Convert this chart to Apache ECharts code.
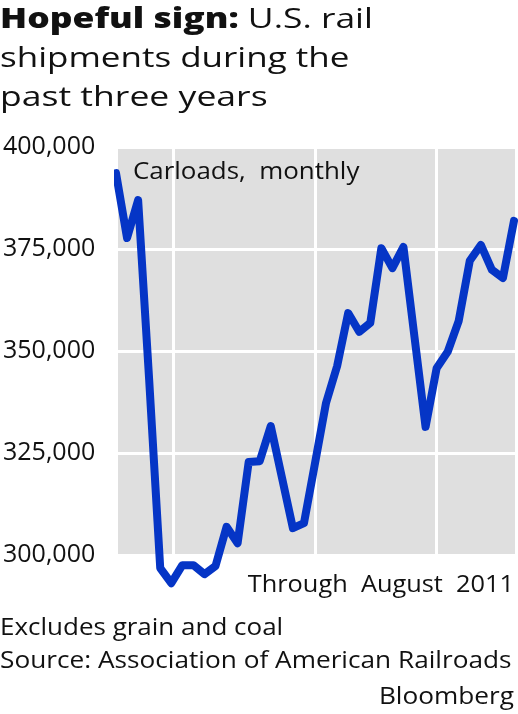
<!DOCTYPE html>
<html>
<head>
<meta charset="utf-8">
<script src="https://cdn.jsdelivr.net/npm/echarts@6/dist/echarts.min.js"></script>
<style>
  html, body { margin: 0; padding: 0; background: #fff; }
  #main { width: 518px; height: 714px; }
</style>
</head>
<body>
<div id="main"></div>
<script>
// monthly carloads, Aug 2008 .. Aug 2011
var months = [
  "Aug 08","Sep 08","Oct 08","Nov 08","Dec 08",
  "Jan 09","Feb 09","Mar 09","Apr 09","May 09","Jun 09","Jul 09","Aug 09","Sep 09","Oct 09","Nov 09","Dec 09",
  "Jan 10","Feb 10","Mar 10","Apr 10","May 10","Jun 10","Jul 10","Aug 10","Sep 10","Oct 10","Nov 10","Dec 10",
  "Jan 11","Feb 11","Mar 11","Apr 11","May 11","Jun 11","Jul 11","Aug 11"
];
var carloads = [
  393600, 377700, 387000, 342900, 296800,
  293100, 297500, 297500, 295300, 297300, 306900, 302900, 322800, 323000, 331600, 319100, 306600,
  307800, 322500, 337300, 346300, 359300, 354700, 356900, 375200, 370300, 375500, 353400, 331400,
  345800, 349800, 357400, 372100, 376000, 369900, 367900, 381900
];
var yTicks = [300000, 325000, 350000, 375000, 400000];
// white vertical dividers, in month-index units
var dividers = [5.2, 18.05, 29.0];

var FONT = "Open Sans";
var chart = echarts.init(document.getElementById("main"));

// text helper, centred vertically on y; sx stretches it sideways
function label(text, x, y, size, align, sx, rich) {
  return {
    type: "text",
    x: x, y: y, scaleX: sx, z: 100,
    style: {
      text: text,
      fontFamily: FONT, fontSize: size, fill: "#111",
      align: align, textAlign: align,
      verticalAlign: "middle", textVerticalAlign: "middle",
      rich: rich
    }
  };
}

var option = {
  animation: false,
  grid: {
    left: 115,
    right: 3,
    top: 147,
    bottom: 159,
    show: true,
    backgroundColor: "#dfdfdf",
    borderWidth: 0
  },
  xAxis: {
    type: "value",
    min: 0.18,
    max: 36.09,
    axisLine: { show: false },
    axisTick: { show: false },
    axisLabel: { show: false },
    splitLine: { show: false }
  },
  yAxis: {
    type: "value",
    min: yTicks[0],
    max: yTicks[yTicks.length - 1],
    interval: 25000,
    axisLine: { show: false },
    axisTick: { show: false },
    axisLabel: {
      align: "left",
      margin: 115,
      color: "#111",
      fontFamily: FONT,
      fontSize: 25,
      formatter: function (v) {
        return v.toLocaleString("en-US");
      }
    },
    splitLine: { lineStyle: { color: "#fff", width: 3 } }
  },
  series: [
    {
      type: "line",
      z: 1,
      data: [],
      silent: true,
      markLine: {
        silent: true,
        symbol: "none",
        label: { show: false },
        lineStyle: { color: "#fff", width: 3, type: "solid" },
        data: dividers.map(function (d) { return { xAxis: d }; })
      }
    },
    {
      name: "Carloads",
      type: "line",
      z: 5,
      clip: false,
      showSymbol: false,
      symbol: "none",
      data: carloads.map(function (v, i) { return [i, v]; }),
      lineStyle: { color: "#0535c6", width: 8, cap: "round", join: "round" }
    }
  ],
  graphic: [
    label("{b|Hopeful sign:} U.S. rail", 0, 20, 28, "left", 1.265,
      { b: { fontFamily: FONT, fontSize: 28, fontWeight: 800, fill: "#111" } }),
    label("shipments during the", 0, 59, 28, "left", 1.25),
    label("past three years", 0, 98, 28, "left", 1.27),
    label("Carloads,  monthly", 133, 172, 24, "left", 1.08),
    label("Through  August  2011", 514, 585, 24, "right", 1.056),
    label("Excludes grain and coal", 0, 628, 23, "left", 1.13),
    label("Source: Association of American Railroads", 0, 661, 23, "left", 1.14),
    label("Bloomberg", 514, 697, 23, "right", 1.14)
  ]
};

chart.setOption(option);
</script>
</body>
</html>
